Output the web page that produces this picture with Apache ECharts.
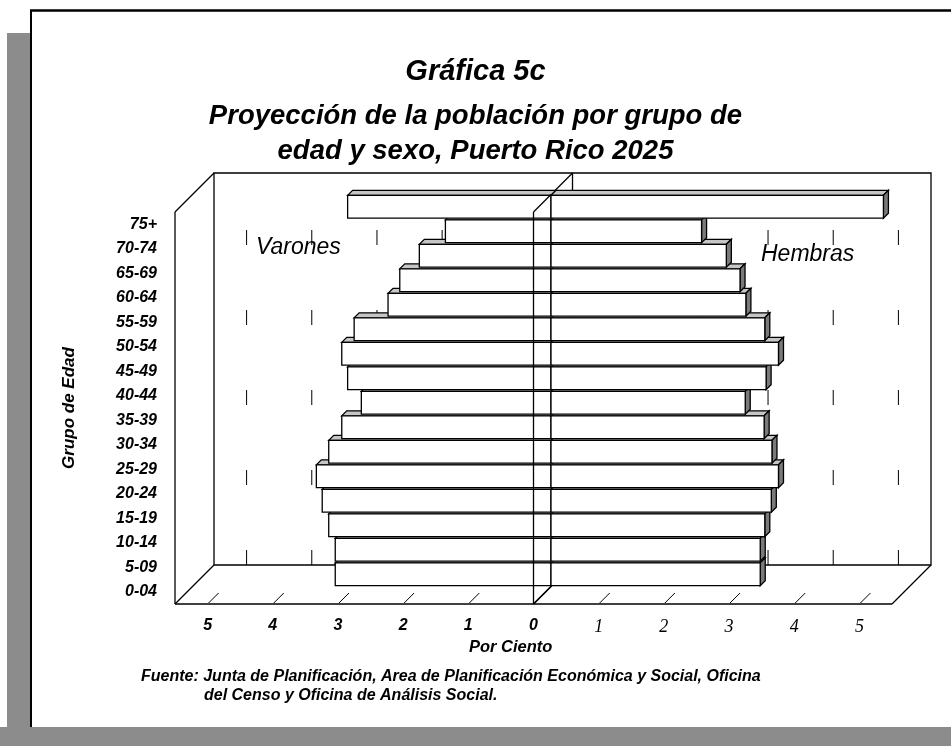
<!DOCTYPE html>
<html>
<head>
<meta charset="utf-8">
<script src="https://cdn.jsdelivr.net/npm/echarts@6/dist/echarts.min.js"></script>
<style>
  html, body { margin: 0; padding: 0; background: #fff; }
  #chart { width: 951px; height: 746px; }
</style>
</head>
<body>
<div id="chart"></div>
<script>
// Age groups, bottom to top
const ageGroups = ['0-04', '5-09', '10-14', '15-19', '20-24', '25-29', '30-34', '35-39',
                   '40-44', '45-49', '50-54', '55-59', '60-64', '65-69', '70-74', '75+'];
// Percent of total population, 2025 projection
const varones = [3.31, 3.31, 3.41, 3.51, 3.60, 3.41, 3.21, 2.91, 3.12, 3.21, 3.02, 2.50, 2.32, 2.02, 1.62, 3.12];
const hembras = [3.21, 3.21, 3.28, 3.38, 3.49, 3.39, 3.27, 2.98, 3.30, 3.49, 3.28, 2.99, 2.90, 2.69, 2.31, 5.10];
// Axis extent and the grid lines on the back wall
const axisMin = -5.5;
const axisMax = 5.5;
const gridTicks = [-5, -4, -3, -2, -1, 1, 2, 3, 4, 5];

// Oblique 3D look: pixel offsets toward the back of the box
const DEPTH = 39;      // full depth of the box
const BAR_Z0 = 17.5;   // front face of the bars
const BAR_D = 5;       // thickness of the bars
const TICK = 10;
const SANS = '"Liberation Sans", Arial, Helvetica, sans-serif';
const SERIF = '"Liberation Serif", "Times New Roman", serif';

const chart = echarts.init(document.getElementById('chart'), null, { renderer: 'canvas' });

function seg(x1, y1, x2, y2, extra) {
  return {
    type: 'line',
    shape: { x1: x1, y1: y1, x2: x2, y2: y2 },
    style: Object.assign({ stroke: '#000', lineWidth: 1.3 }, extra || {})
  };
}

// Walls, floor, back-wall grid and the centre divider
function renderFrame(params, api) {
  const cs = params.coordSys;
  const L = cs.x, T = cs.y, R = cs.x + cs.width, B = cs.y + cs.height;
  const D = DEPTH;
  const x0 = api.coord([0, 0])[0];
  const kids = [];
  kids.push({
    type: 'rect',
    shape: { x: L + D, y: T - D, width: R - L, height: B - T },
    style: { fill: '#fff', stroke: '#000', lineWidth: 1.3 }
  });
  gridTicks.forEach(function (v) {
    const x = api.coord([v, 0])[0] + D;
    kids.push(seg(x, B - D, x, T - D, { lineWidth: 1, lineDash: [15, 65] }));
  });
  kids.push(seg(L, T, L, B));
  kids.push(seg(L, T, L + D, T - D));
  kids.push(seg(L, B, L + D, B - D));
  kids.push(seg(L, B, R, B));
  kids.push(seg(R, B, R + D, B - D));
  gridTicks.forEach(function (v) {
    const x = api.coord([v, 0])[0];
    kids.push(seg(x + 1, B - 1, x + 1 + TICK, B - 1 - TICK, { lineWidth: 1 }));
  });
  kids.push(seg(x0, T, x0 + D, T - D));
  kids.push(seg(x0 + D, T - D, x0 + D, B - D));
  kids.push(seg(x0, B, x0 + D, B - D));
  return { type: 'group', children: kids };
}

// Front edge of the divider, which sits in front of the bars
function renderDividerFront(params, api) {
  const cs = params.coordSys;
  const T = cs.y, B = cs.y + cs.height;
  const x0 = api.coord([0, 0])[0];
  return {
    type: 'group',
    children: [
      seg(x0, T, x0, B),
      seg(x0, T, x0 + BAR_Z0, T - BAR_Z0),
      seg(x0, B, x0 + BAR_Z0, B - BAR_Z0)
    ]
  };
}

// One 3D bar: front face, top face and (for right-hand bars) the end face
function renderBar(params, api) {
  const v = api.value(0);
  const idx = api.value(1);
  const p0 = api.coord([0, idx]);
  const p1 = api.coord([v, idx]);
  const band = api.size([0, 1])[1];
  const h = band - 1.6;
  const xa = Math.min(p0[0], p1[0]) + BAR_Z0;
  const xb = Math.max(p0[0], p1[0]) + BAR_Z0;
  const yt = p0[1] - h / 2 - BAR_Z0;
  const yb = p0[1] + h / 2 - BAR_Z0;
  const d = BAR_D;
  const edge = { stroke: '#000', lineWidth: 1.3, lineJoin: 'miter' };
  const kids = [
    {
      type: 'polygon',
      shape: { points: [[xa, yt], [xb, yt], [xb + d, yt - d], [xa + d, yt - d]] },
      style: Object.assign({ fill: '#c6c6c6' }, edge)
    }
  ];
  if (v > 0) {
    kids.push({
      type: 'polygon',
      shape: { points: [[xb, yt], [xb + d, yt - d], [xb + d, yb - d], [xb, yb]] },
      style: Object.assign({ fill: '#7a7a7a' }, edge)
    });
  }
  kids.push({
    type: 'rect',
    shape: { x: xa, y: yt, width: xb - xa, height: yb - yt },
    style: Object.assign({ fill: '#fff' }, edge)
  });
  return { type: 'group', children: kids };
}

const labelFont = { fontFamily: SANS, fontStyle: 'italic', fontWeight: 'bold', color: '#000' };

const option = {
  backgroundColor: '#fff',
  animation: false,
  title: [
    {
      text: 'Gráfica 5c',
      left: 'center',
      top: 52,
      textStyle: Object.assign({}, labelFont, { fontSize: 29 })
    },
    {
      text: 'Proyección de la población por grupo de\nedad y sexo, Puerto Rico 2025',
      left: 'center',
      top: 94,
      textStyle: Object.assign({}, labelFont, { fontSize: 27.5, lineHeight: 35 })
    }
  ],
  grid: { left: 175, top: 212, width: 717, height: 392 },
  xAxis: {
    type: 'value',
    min: axisMin,
    max: axisMax,
    interval: 0.5,
    axisLine: { show: false },
    axisTick: { show: false },
    splitLine: { show: false },
    axisLabel: {
      margin: 14,
      formatter: function (val) {
        if (!Number.isInteger(val)) return '';
        return val > 0 ? '{r|' + val + '}' : '{l|' + Math.abs(val) + '}';
      },
      rich: {
        l: Object.assign({}, labelFont, { fontSize: 16 }),
        r: { fontFamily: SERIF, fontStyle: 'italic', fontSize: 18, color: '#000' }
      }
    }
  },
  yAxis: {
    type: 'category',
    data: ageGroups,
    name: 'Grupo de Edad',
    nameLocation: 'middle',
    nameRotate: 90,
    nameGap: 97,
    nameTextStyle: Object.assign({}, labelFont, { fontSize: 17 }),
    axisLine: { show: false },
    axisTick: { show: false },
    splitLine: { show: false },
    axisLabel: Object.assign({ margin: 18, fontSize: 16 }, labelFont)
  },
  graphic: [
    // scanned page edges
    { type: 'rect', shape: { x: 7, y: 33, width: 24, height: 713 }, style: { fill: '#8c8c8c' }, z: 0 },
    { type: 'rect', shape: { x: 0, y: 727, width: 951, height: 19 }, style: { fill: '#8c8c8c' }, z: 0 },
    { type: 'line', shape: { x1: 30, y1: 10.5, x2: 951, y2: 10.5 }, style: { stroke: '#000', lineWidth: 2.5 }, z: 1 },
    { type: 'line', shape: { x1: 31, y1: 10, x2: 31, y2: 727 }, style: { stroke: '#000', lineWidth: 2 }, z: 1 },
    {
      type: 'text', left: 256, top: 236, z: 10,
      style: { text: 'Varones', font: 'italic 23px ' + SANS, fill: '#000' }
    },
    {
      type: 'text', left: 761, top: 243, z: 10,
      style: { text: 'Hembras', font: 'italic 23px ' + SANS, fill: '#000' }
    },
    {
      type: 'text', left: 469, top: 639, z: 10,
      style: { text: 'Por Ciento', font: 'italic bold 16.5px ' + SANS, fill: '#000' }
    },
    {
      type: 'text', left: 141, top: 669, z: 10,
      style: { text: 'Fuente: Junta de Planificación, Area de Planificación Económica y Social, Oficina', font: 'italic bold 16px ' + SANS, fill: '#000' }
    },
    {
      type: 'text', left: 204, top: 688, z: 10,
      style: { text: 'del Censo y Oficina de Análisis Social.', font: 'italic bold 16px ' + SANS, fill: '#000' }
    }
  ],
  series: [
    {
      name: 'frame',
      type: 'custom',
      renderItem: renderFrame,
      data: [[0, 0]],
      encode: { x: 0, y: 1 },
      clip: false,
      silent: true,
      z: 1
    },
    {
      name: 'Varones',
      type: 'custom',
      renderItem: renderBar,
      data: varones.map(function (v, i) { return [-v, i]; }),
      encode: { x: 0, y: 1 },
      clip: false,
      z: 2
    },
    {
      name: 'Hembras',
      type: 'custom',
      renderItem: renderBar,
      data: hembras.map(function (v, i) { return [v, i]; }),
      encode: { x: 0, y: 1 },
      clip: false,
      z: 3
    },
    {
      name: 'divider',
      type: 'custom',
      renderItem: renderDividerFront,
      data: [[0, 0]],
      encode: { x: 0, y: 1 },
      clip: false,
      silent: true,
      z: 4
    }
  ]
};

chart.setOption(option);
</script>
</body>
</html>
